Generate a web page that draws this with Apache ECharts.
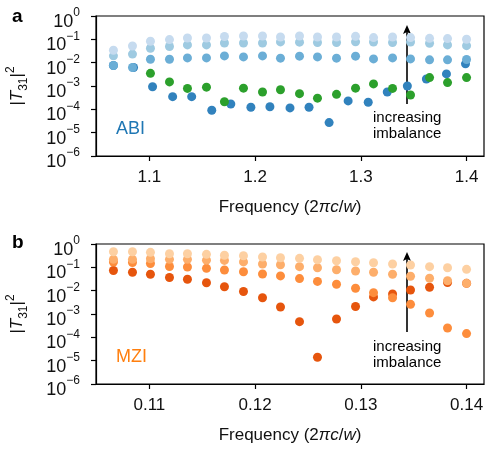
<!DOCTYPE html>
<html>
<head>
<meta charset="utf-8">
<script src="https://cdn.jsdelivr.net/npm/echarts@6/dist/echarts.min.js"></script>
<style>
  html, body { margin: 0; padding: 0; background: #fff; }
  #chart { width: 500px; height: 450px; }
</style>
</head>
<body>
<div id="chart"></div>
<script>
// ---- panel a: ABI, frequency in units of 2πc/w ----
const abiFreq = [1.066, 1.084, 1.101, 1.119, 1.136, 1.154, 1.171, 1.189, 1.207, 1.224,
                 1.242, 1.259, 1.277, 1.295, 1.312, 1.330, 1.347, 1.365, 1.382, 1.400];
const abiDarkFreq = [1.066, 1.085, 1.103, 1.122, 1.140, 1.159, 1.177, 1.196, 1.214, 1.233,
                     1.251, 1.270, 1.288, 1.307, 1.325, 1.344, 1.362, 1.381, 1.399];
const abiGreenFreq = [1.101, 1.119, 1.136, 1.154, 1.171, 1.189, 1.207, 1.224, 1.242,
                      1.259, 1.277, 1.295, 1.312, 1.330, 1.347, 1.365, 1.382, 1.400];
// |T31|^2, from lowest to highest imbalance
const abiDark = [0.0076, 0.0062, 9.3e-4, 3.5e-4, 3.5e-4, 9.1e-5, 1.7e-4, 1.23e-4, 1.29e-4, 1.15e-4,
                 1.23e-4, 2.7e-5, 2.3e-4, 2.0e-4, 5.5e-4, 1.0e-3, 2.0e-3, 3.3e-3, 8.9e-3];
const abiGreen = [3.5e-3, 1.5e-3, 7.9e-4, 8.9e-4, 2.1e-4, 8.1e-4, 5.5e-4, 6.9e-4, 4.7e-4,
                  3.0e-4, 4.4e-4, 8.1e-4, 1.23e-3, 7.9e-4, 4.1e-4, 2.3e-3, 1.4e-3, 2.3e-3];
const abiMid = [0.0076, 0.0062, 0.0141, 0.0141, 0.0160, 0.0160, 0.0195, 0.0177, 0.0195, 0.0156,
                0.0190, 0.0177, 0.0156, 0.0190, 0.0145, 0.0160, 0.0145, 0.0132, 0.0132, 0.0137];
const abiLight = [0.0197, 0.0233, 0.0417, 0.0492, 0.0577, 0.0577, 0.0702, 0.0702, 0.0702, 0.0780,
                  0.0759, 0.0730, 0.0730, 0.0782, 0.0774, 0.0730, 0.0774, 0.0681, 0.0577, 0.0538];
const abiLightest = [0.034, 0.052, 0.083, 0.098, 0.115, 0.115, 0.132, 0.140, 0.140, 0.127,
                     0.140, 0.127, 0.127, 0.135, 0.119, 0.127, 0.119, 0.111, 0.108, 0.101];

// ---- panel b: MZI ----
const mziFreq = [0.1066, 0.1084, 0.1101, 0.1119, 0.1136, 0.1154, 0.1171, 0.1189, 0.1207, 0.1224,
                 0.1242, 0.1259, 0.1277, 0.1295, 0.1312, 0.1330, 0.1347, 0.1365, 0.1382, 0.1400];
const mziDark = [0.0733, 0.0614, 0.0509, 0.0367, 0.0308, 0.0220, 0.0148, 0.0092, 0.0050, 0.0020,
                 4.7e-4, 1.4e-5, 6.1e-4, 2.1e-3, 5.4e-3, 7.2e-3, 0.0107, 0.0140, 0.0224, 0.0207];
const mziMid = [0.169, 0.161, 0.146, 0.109, 0.104, 0.091, 0.077, 0.065, 0.052, 0.043,
                0.033, 0.025, 0.0188, 0.0127, 0.0082, 0.0050, 0.0026, 0.0011, 2.5e-4, 1.44e-4];
const mziLight = [0.221, 0.221, 0.234, 0.221, 0.221, 0.204, 0.199, 0.171, 0.139, 0.130,
                  0.107, 0.0966, 0.0793, 0.0698, 0.0614, 0.0504, 0.0414, 0.0340, 0.0268, 0.0207];
const mziLightest = [0.468, 0.468, 0.442, 0.385, 0.385, 0.362, 0.331, 0.316, 0.277, 0.259,
                     0.244, 0.213, 0.193, 0.175, 0.158, 0.139, 0.126, 0.107, 0.0966, 0.0824];

const abiTicks = [1.1, 1.2, 1.3, 1.4];
const mziTicks = [0.11, 0.12, 0.13, 0.14];

const FONT = 'Liberation Sans, Arial, Helvetica, sans-serif';

function pairs (xs, ys) {
  return ys.map((y, i) => [xs[i], y]);
}

function powLabel (v) {
  const e = Math.round(Math.log10(v));
  return '{b|10}{s|' + (e < 0 ? '\u2212' + (-e) : e) + '}';
}

function xAxisOf (gridIndex, min, max, ticks) {
  return {
    type: 'value',
    gridIndex: gridIndex,
    min: min,
    max: max,
    splitLine: { show: false },
    axisLine: { lineStyle: { color: '#000', width: 1.2 } },
    axisTick: { customValues: ticks, length: 5, lineStyle: { color: '#000', width: 1.2 } },
    axisLabel: { customValues: ticks, color: '#111', fontSize: 17, fontFamily: FONT, margin: 13 },
    name: '{t|Frequency (2}{i|\u03c0c}{t|/}{i|w}{t|)}',
    nameLocation: 'middle',
    nameGap: 43,
    nameTextStyle: {
      rich: {
        t: { fontSize: 17, fontFamily: FONT, color: '#111' },
        i: { fontSize: 17, fontFamily: FONT, fontStyle: 'italic', color: '#111' }
      }
    }
  };
}

function yAxisOf (gridIndex) {
  return {
    type: 'log',
    logBase: 10,
    gridIndex: gridIndex,
    // a hair beyond the decades so 1e-6 and 1 are ordinary ticks with labels
    min: 0.995e-6,
    max: 1.005,
    splitNumber: 6,
    splitLine: { show: false },
    axisLine: { show: true, lineStyle: { color: '#000', width: 1.2 } },
    axisTick: { show: true, length: 5, lineStyle: { color: '#000', width: 1.2 } },
    minorTick: { show: false },
    axisLabel: {
      formatter: powLabel,
      margin: 16,
      rich: {
        b: { fontSize: 18, lineHeight: 8, fontFamily: FONT, color: '#111', padding: [12, 0, 0, 0] },
        s: { fontSize: 12, lineHeight: 8, fontFamily: FONT, color: '#111', padding: [3, 0, 9, 0] }
      }
    },
    name: '{v||}{i|T}{sub|31}{v||}{sup|2}',
    nameLocation: 'middle',
    nameRotate: 90,
    nameGap: 70,
    nameTextStyle: {
      rich: {
        v: { fontSize: 17, lineHeight: 17, fontFamily: FONT, color: '#111', padding: [4, 0, 4, 0] },
        i: { fontSize: 17, lineHeight: 17, fontFamily: FONT, fontStyle: 'italic', color: '#111', padding: [4, 0, 4, 0] },
        sub: { fontSize: 12, lineHeight: 12, fontFamily: FONT, color: '#111', padding: [12, 0, 0, 0] },
        sup: { fontSize: 12, lineHeight: 12, fontFamily: FONT, color: '#111', padding: [0, 0, 13, 0] }
      }
    }
  };
}

function dots (name, xi, data, color) {
  return {
    name: name,
    type: 'scatter',
    xAxisIndex: xi,
    yAxisIndex: xi,
    data: data,
    symbol: 'circle',
    symbolSize: 9,
    itemStyle: { color: color, opacity: 1 },
    emphasis: { disabled: true },
    silent: true
  };
}

function arrow (x, yTail, yTip) {
  return [
    { type: 'line', shape: { x1: x, y1: yTail, x2: x, y2: yTip + 4 }, style: { stroke: '#000', lineWidth: 1.6 } },
    { type: 'polygon', shape: { points: [[x, yTip], [x - 4, yTip + 9], [x, yTip + 7], [x + 4, yTip + 9]] }, style: { fill: '#000' } }
  ];
}

function label (x, y, text, size, color, weight) {
  return {
    type: 'text', x: x, y: y,
    style: { text: text, fontSize: size, fontFamily: FONT, fill: color, fontWeight: weight || 'normal', verticalAlign: 'middle' }
  };
}

const chart = echarts.init(document.getElementById('chart'));
chart.setOption({
  animation: false,
  backgroundColor: '#fff',
  grid: [
    { left: 96, right: 16, top: 16, height: 140, outerBoundsMode: 'none', show: true, borderColor: '#000', borderWidth: 1.2 },
    { left: 96, right: 16, top: 244, height: 140, outerBoundsMode: 'none', show: true, borderColor: '#000', borderWidth: 1.2 }
  ],
  xAxis: [
    xAxisOf(0, 1.0495, 1.4165, abiTicks),
    xAxisOf(1, 0.10495, 0.14165, mziTicks)
  ],
  yAxis: [yAxisOf(0), yAxisOf(1)],
  series: [
    dots('abi-dark', 0, pairs(abiDarkFreq, abiDark), '#3182bd'),
    dots('abi-green', 0, pairs(abiGreenFreq, abiGreen), '#2ca02c'),
    dots('abi-mid', 0, pairs(abiFreq, abiMid), '#6baed6'),
    dots('abi-light', 0, pairs(abiFreq, abiLight), '#9ecae1'),
    dots('abi-lightest', 0, pairs(abiFreq, abiLightest), '#c6dbef'),
    dots('mzi-dark', 1, pairs(mziFreq, mziDark), '#e6550d'),
    dots('mzi-mid', 1, pairs(mziFreq, mziMid), '#fd8d3c'),
    dots('mzi-light', 1, pairs(mziFreq, mziLight), '#fdae6b'),
    dots('mzi-lightest', 1, pairs(mziFreq, mziLightest), '#fdd0a2')
  ],
  graphic: [
    label(12, 17, 'a', 19, '#000', 'bold'),
    label(12, 243, 'b', 19, '#000', 'bold'),
    label(116, 129, 'ABI', 18, '#1f77b4'),
    label(116, 357, 'MZI', 18, '#ff7f0e'),
    ...arrow(407, 104, 25),
    ...arrow(407, 332, 252),
    { type: 'text', x: 373, y: 126, style: { text: 'increasing\nimbalance', fontSize: 15, lineHeight: 16, fontFamily: FONT, fill: '#000', verticalAlign: 'middle' } },
    { type: 'text', x: 373, y: 355, style: { text: 'increasing\nimbalance', fontSize: 15, lineHeight: 16, fontFamily: FONT, fill: '#000', verticalAlign: 'middle' } }
  ]
});
</script>
</body>
</html>
